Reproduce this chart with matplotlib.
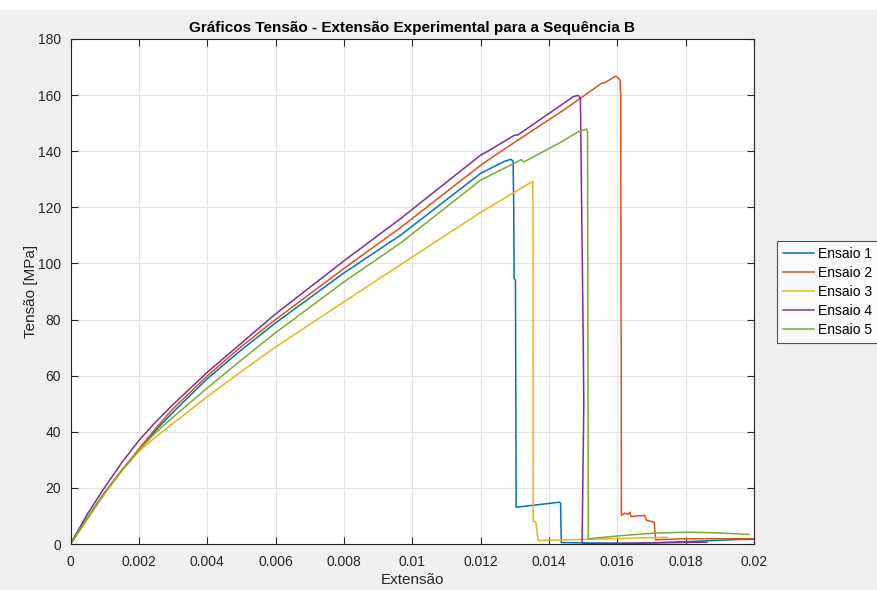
import matplotlib
matplotlib.use("Agg")
import matplotlib.pyplot as plt
from matplotlib.patches import Rectangle

plt.rcParams['font.family'] = ['Liberation Sans', 'DejaVu Sans']

# Ensaio 1 (strain, stress in MPa)
e1 = [0, 0.0005, 0.001, 0.0015, 0.002, 0.0025, 0.003, 0.004, 0.005, 0.006, 0.008,
      0.00966, 0.012, 0.0127, 0.01289, 0.01295, 0.01297, 0.01298, 0.01302, 0.01304,
      0.01431, 0.01434, 0.01436, 0.0165, 0.0184, 0.0195, 0.0205]
s1 = [0, 9.5, 18.4, 26.3, 33.5, 40.6, 47, 58.9, 69.2, 78.8, 96.6,
      110.1, 132.1, 136.4, 137.1, 136.5, 120, 94.6, 94, 13.1,
      14.9, 14.5, 0.5, 0.2, 1.0, 1.6, 1.8]

# Ensaio 2
e2 = [0, 0.0005, 0.001, 0.0015, 0.002, 0.0025, 0.003, 0.004, 0.005, 0.006, 0.008,
      0.00966, 0.012, 0.0126, 0.01436, 0.01554, 0.01563, 0.01596, 0.01603, 0.01608,
      0.0161, 0.01612, 0.01622, 0.01632, 0.01637, 0.0164, 0.0168, 0.01686, 0.01708,
      0.01712, 0.01789, 0.0205]
s2 = [0, 9.0, 18, 26.2, 33.9, 41.3, 48.2, 59.9, 70.4, 80, 98.2,
      112.8, 135, 140, 154.1, 164.2, 164.4, 166.8, 166, 165.4,
      160, 10.2, 11.0, 10.6, 11.3, 9.8, 10.2, 8.4, 7.8,
      1.5, 1.85, 1.9]

# Ensaio 3
e3 = [0, 0.0005, 0.001, 0.0015, 0.002, 0.0023, 0.0026, 0.003, 0.004, 0.005, 0.006,
      0.008, 0.00966, 0.012, 0.01353, 0.01354, 0.01358, 0.01362, 0.01368, 0.01745]
s3 = [0, 9.2, 18, 26, 33, 36.2, 39.2, 43.0, 52.5, 61.5, 70.2,
      86.3, 99.6, 118.2, 129.3, 8.1, 8.1, 7.5, 1.25, 2.4]

# Ensaio 4
e4 = [0, 0.0005, 0.001, 0.0015, 0.002, 0.0025, 0.003, 0.004, 0.005, 0.006, 0.008,
      0.00966, 0.012, 0.01221, 0.01299, 0.01309, 0.0146, 0.0147, 0.01485, 0.01492,
      0.015, 0.01502, 0.01497, 0.0150, 0.01862]
s4 = [0, 10.8, 20.2, 29, 36.9, 43.6, 49.7, 61.2, 71.6, 82, 100.9,
      116, 138.6, 140, 145.7, 145.8, 158.5, 159.4, 159.9, 159,
      76, 50, 0.5, 0.1, 0.64]

# Ensaio 5
e5 = [0, 0.0005, 0.001, 0.0015, 0.002, 0.0025, 0.003, 0.004, 0.005, 0.006, 0.008,
      0.00966, 0.012, 0.01319, 0.01327, 0.01436, 0.01485, 0.0151, 0.01513, 0.01515,
      0.01613, 0.0171, 0.01808, 0.01887, 0.01985]
s5 = [0, 9.4, 18.4, 26.3, 33.5, 39.8, 45.2, 55.6, 65.6, 75.3, 93.4,
      107.3, 129.7, 137, 136.2, 143.3, 146.9, 147.9, 147, 1.85,
      3.0, 3.9, 4.2, 4.0, 3.4]

labels = ['Ensaio 1', 'Ensaio 2', 'Ensaio 3', 'Ensaio 4', 'Ensaio 5']
colors = ['#0072BD', '#D95319', '#EDB120', '#7E2F8E', '#77AC30']

xticks = [0, 0.002, 0.004, 0.006, 0.008, 0.01, 0.012, 0.014, 0.016, 0.018, 0.02]
xticklabels = ['0', '0.002', '0.004', '0.006', '0.008', '0.01', '0.012',
               '0.014', '0.016', '0.018', '0.02']
yticks = list(range(0, 181, 20))

fig = plt.figure(figsize=(8.78, 5.90), dpi=100, facecolor='#f0f0f0')
fig.patches.append(Rectangle((0, 1 - 10 / 590), 1, 10 / 590, transform=fig.transFigure,
                             facecolor='white', edgecolor='none', zorder=-1))
ax = fig.add_axes([70.5 / 878, 1 - 544 / 590, (754 - 70.5) / 878, (544 - 39) / 590])

series = [(e1, s1), (e2, s2), (e3, s3), (e4, s4), (e5, s5)]
for (e, s), lab, c in zip(series, labels, colors):
    ax.plot(e, s, color=c, lw=1.1, label=lab)

ax.set_xlim(0, 0.02)
ax.set_ylim(0, 180)
ax.set_xticks(xticks)
ax.set_xticklabels(xticklabels)
ax.set_yticks(yticks)
ax.grid(True, color='#e3e3e3', lw=0.8)
ax.set_axisbelow(True)
ax.tick_params(direction='in', length=5, width=0.8, colors='#262626', labelsize=10,
               top=True, right=True)
ax.tick_params(axis='x', pad=8)
ax.tick_params(axis='y', pad=7)
for sp in ax.spines.values():
    sp.set_color('#262626')
    sp.set_linewidth(0.8)

ax.set_title('Gráficos Tensão - Extensão Experimental para a Sequência B',
             fontsize=11, fontweight='bold', color='black', pad=5)
ax.set_xlabel('Extensão', fontsize=11, color='#262626', labelpad=3)
ax.set_ylabel('Tensão [MPa]', fontsize=11, color='#262626', labelpad=0)

leg = ax.legend(loc='upper left', bbox_to_anchor=(777 / 878, 1 - 241 / 590),
                bbox_transform=fig.transFigure, fontsize=10, frameon=True,
                fancybox=False, handlelength=2.2, handletextpad=0.3,
                labelspacing=0.35, borderpad=0.45, borderaxespad=0)
leg.get_frame().set_edgecolor('#262626')
leg.get_frame().set_linewidth(0.8)

fig.savefig('out.png', dpi=100, facecolor=fig.get_facecolor())
